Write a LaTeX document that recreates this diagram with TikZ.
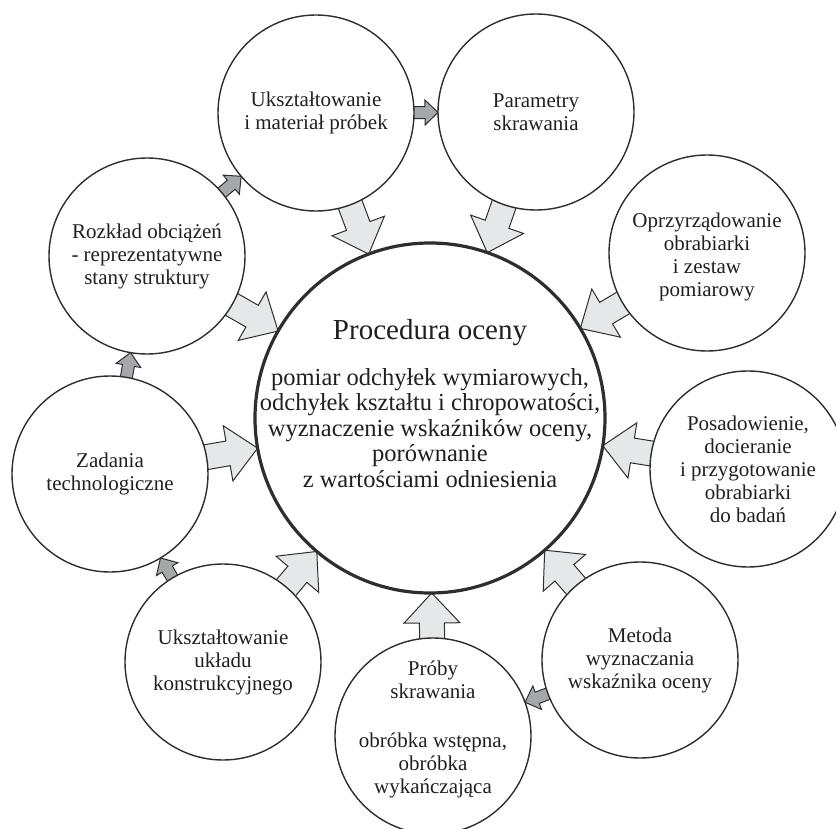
\documentclass[tikz,border=0pt]{standalone}
\usepackage{fontspec}
\setmainfont{Liberation Serif}
\usetikzlibrary{calc,backgrounds}

\definecolor{ink}{HTML}{2E2E2E}
\definecolor{txt}{HTML}{231F20}
\definecolor{bigfill}{HTML}{E6E7E8}
\definecolor{smallfill}{HTML}{A5A7AA}

\tikzset{
  outer/.style={circle, draw=ink, line width=1.4pt, fill=white,
                minimum size=196pt, inner sep=0pt},
  core/.style={circle, draw=ink, line width=3.2pt, fill=white,
               minimum size=350pt, inner sep=0pt},
  outertext/.style={align=center, inner sep=0pt, text=txt,
                    font=\fontsize{21}{23}\selectfont},
  titletext/.style={inner sep=0pt, text=txt, font=\fontsize{29}{32}\selectfont},
  bodytext/.style={align=center, inner sep=0pt, text=txt,
                   font=\fontsize{24.5}{25.5}\selectfont},
  bigarrow/.style={draw=ink, line width=1pt, fill=bigfill, line join=miter},
  smallarrow/.style={draw=ink, line width=1pt, fill=smallfill, line join=miter},
}

% Block arrow between two circle nodes, along the line joining their centres.
% #1 style, #2 source node, #3 target node, #4 start distance from source centre,
% #5 target radius (tip), #6 shaft half width, #7 head half width, #8 head length
\newcommand\blockarr[8]{%
  \coordinate (ba-s) at ($(#2.center)!#4pt!(#3.center)$);
  \coordinate (ba-t) at ($(#3.center)!#5pt!(#2.center)$);
  \coordinate (ba-h) at ($(ba-t)!#8pt!(ba-s)$);
  \draw[#1] ($(ba-s)!#6pt!90:(ba-t)$) -- ($(ba-h)!#6pt!-90:(ba-s)$)
    -- ($(ba-h)!#7pt!-90:(ba-s)$) -- (ba-t) -- ($(ba-h)!#7pt!90:(ba-s)$)
    -- ($(ba-h)!#6pt!90:(ba-s)$) -- ($(ba-s)!#6pt!-90:(ba-t)$) -- cycle;
}

\begin{document}
\begin{tikzpicture}[x=1pt, y=-1pt]
\useasboundingbox (0,0) rectangle (836,829);

% central circle
\node[core] (core) at (430,418) {};
\node[titletext, anchor=base] (title) at (430,340) {Procedura oceny};
\node[bodytext] (body) at (430,428) {pomiar odchyłek wymiarowych,\\
  odchyłek kształtu i chropowatości,\\
  wyznaczenie wskaźników oceny,\\
  porównanie\\
  z wartościami odniesienia};

% ring of circles
\node[outer] (mat) at (316,113) {};
\node[outer] (par) at (536,112) {};
\node[outer] (opr) at (707,253) {};
\node[outer] (pos) at (748,469) {};
\node[outer] (met) at (640,660) {};
\node[outer] (pro) at (433,736) {};
\node[outer] (ukl) at (223,662) {};
\node[outer] (zad) at (110,474) {};
\node[outer] (roz) at (147,256) {};

\node[outertext] (mat-t) at (mat) {Ukształtowanie\\i materiał próbek};
\node[outertext] (par-t) at (par) {Parametry\\skrawania};
\node[outertext] (opr-t) at ($(opr)+(0,4)$) {Oprzyrządowanie\\obrabiarki\\i zestaw\\pomiarowy};
\node[outertext] (pos-t) at (pos) {Posadowienie,\\docieranie\\i przygotowanie\\obrabiarki\\do badań};
\node[outertext] (met-t) at (met) {Metoda\\wyznaczania\\wskaźnika oceny};
\node[outertext] (pro-t) at ($(pro)+(0,-7)$) {Próby\\skrawania\\[26pt]obróbka wstępna,\\obróbka\\wykańczająca};
\node[outertext] (ukl-t) at (ukl) {Ukształtowanie\\układu\\konstrukcyjnego};
\node[outertext] (zad-t) at (zad) {Zadania\\technologiczne};
\node[outertext] (roz-t) at (roz) {Rozkład obciążeń\\- reprezentatywne\\stany struktury};

% arrows, kept underneath the circles
\begin{pgfonlayer}{background}
  \foreach \src in {mat,par,opr,pos,met,pro,ukl,zad,roz}
    {\blockarr{bigarrow}{\src}{core}{88}{175}{12.5}{28}{30}}
  \blockarr{smallarrow}{met}{pro}{88}{98}{6}{12.5}{13}
  \blockarr{smallarrow}{ukl}{zad}{88}{98}{6}{12.5}{13}
  \blockarr{smallarrow}{zad}{roz}{88}{98}{6}{12.5}{13}
  \blockarr{smallarrow}{roz}{mat}{88}{98}{6}{12.5}{13}
  \blockarr{smallarrow}{mat}{par}{88}{98}{6}{12.5}{13}
\end{pgfonlayer}
\end{tikzpicture}
\end{document}
